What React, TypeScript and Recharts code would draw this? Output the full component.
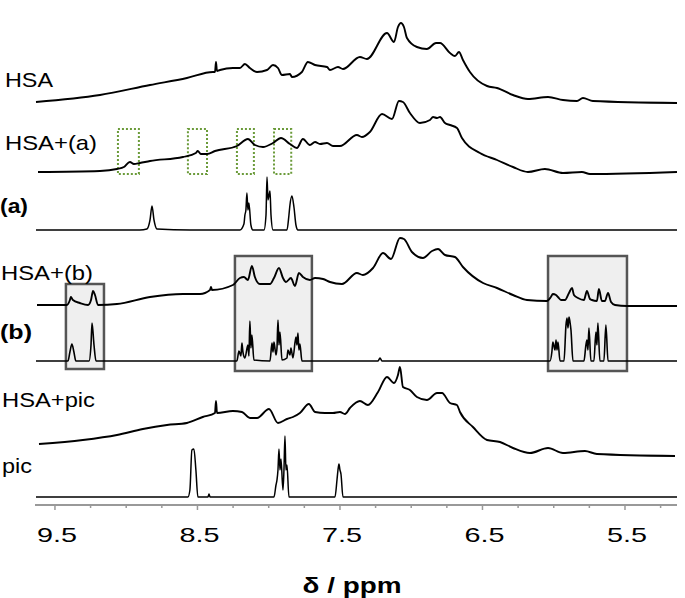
import React from 'react';
import { LineChart, Line, XAxis, YAxis, ReferenceArea } from 'recharts';

// chemical shift (ppm), intensity above each trace's own baseline
const hsa: [number, number][] = [
  [9.633, 1], [9.184, 8], [8.833, 18], [8.574, 25], [8.391, 31], [8.377, 31], [8.37, 41], [8.363, 32],
  [8.342, 33], [8.251, 35], [8.202, 35], [8.167, 39], [8.132, 35], [8.082, 31], [8.012, 33], [7.97, 38],
  [7.935, 35], [7.907, 28], [7.851, 29], [7.837, 26], [7.767, 31], [7.725, 41], [7.675, 38], [7.591, 36],
  [7.57, 33], [7.514, 36], [7.479, 34], [7.36, 46], [7.311, 44], [7.17, 70], [7.121, 61], [7.093, 76],
  [7.072, 80], [7.051, 76], [7.03, 65], [6.96, 56], [6.89, 54], [6.826, 60], [6.798, 60], [6.728, 50],
  [6.693, 47], [6.665, 51], [6.637, 43], [6.588, 31], [6.468, 17], [6.398, 15], [6.286, 8], [6.181, 4],
  [6.04, 6], [5.935, 3], [5.837, 2], [5.795, 5], [5.725, 2], [5.135, 0],
];

const hsaA: [number, number][] = [
  [9.619, 0], [9.184, 1], [9.065, 3], [9.016, 5], [8.974, 10], [8.946, 8], [8.904, 9], [8.833, 11],
  [8.602, 15], [8.511, 19], [8.498, 21], [8.476, 18], [8.433, 18], [8.377, 21], [8.223, 26], [8.146, 33],
  [8.097, 27], [8.04, 25], [7.97, 29], [7.914, 34], [7.851, 28], [7.802, 24], [7.76, 33], [7.711, 27],
  [7.675, 30], [7.64, 28], [7.591, 29], [7.549, 26], [7.5, 26], [7.381, 37], [7.346, 35], [7.29, 40],
  [7.205, 58], [7.135, 53], [7.086, 71], [7.058, 70], [7.009, 59], [6.939, 49], [6.868, 52], [6.847, 55],
  [6.819, 54], [6.798, 55], [6.763, 49], [6.728, 47], [6.679, 44], [6.644, 34], [6.518, 19], [6.398, 12],
  [6.286, 5], [6.181, 0], [6.062, 3], [5.935, -1], [5.802, 0], [5.746, -2], [5.135, 0],
];

const ligandA: [number, number][] = [
  [9.633, 0], [8.904, 0], [8.855, 1], [8.833, 10], [8.819, 24], [8.805, 10], [8.784, 1], [8.553, 0],
  [8.202, 0], [8.174, 6], [8.167, 15], [8.16, 20], [8.153, 37], [8.146, 20], [8.139, 27], [8.125, 5],
  [8.111, 0], [8.033, 0], [8.019, 15], [8.012, 53], [8.005, 30], [7.991, 39], [7.984, 15], [7.97, 0],
  [7.872, 0], [7.858, 15], [7.851, 25], [7.837, 34], [7.823, 23], [7.809, 5], [7.795, 0], [5.135, 0],
];

const hsaB: [number, number][] = [
  [9.626, 1], [9.416, 1], [9.395, 6], [9.388, 9], [9.374, 6], [9.325, 3], [9.268, 1], [9.247, 6],
  [9.233, 15], [9.219, 11], [9.198, 1], [9.065, 2], [8.833, 9], [8.602, 12], [8.482, 12], [8.412, 16],
  [8.405, 19], [8.398, 16], [8.251, 21], [8.202, 28], [8.174, 29], [8.146, 26], [8.118, 40], [8.097, 29],
  [8.062, 22], [7.991, 22], [7.963, 28], [7.928, 38], [7.9, 28], [7.879, 24], [7.844, 28], [7.816, 20],
  [7.788, 33], [7.76, 29], [7.711, 26], [7.675, 28], [7.619, 27], [7.57, 24], [7.486, 22], [7.381, 33],
  [7.339, 31], [7.268, 38], [7.198, 53], [7.142, 47], [7.079, 68], [7.051, 67], [6.995, 54], [6.918, 48],
  [6.854, 55], [6.812, 57], [6.763, 51], [6.693, 49], [6.637, 39], [6.496, 23], [6.398, 18], [6.286, 11],
  [6.188, 6], [6.048, 5], [6.02, 9], [6.006, 12], [5.984, 11], [5.97, 9], [5.949, 6], [5.921, 6],
  [5.893, 13], [5.872, 18], [5.858, 11], [5.83, 8], [5.788, 6], [5.767, 15], [5.746, 7], [5.732, 6],
  [5.697, 5], [5.683, 17], [5.662, 5], [5.641, 5], [5.619, 13], [5.598, 4], [5.57, 1], [5.486, 0],
  [5.135, 0],
];

const ligandB: [number, number][] = [
  [9.633, 0], [9.409, 0], [9.395, 9], [9.381, 17], [9.367, 9], [9.353, 0], [9.261, 0], [9.247, 16],
  [9.24, 38], [9.226, 16], [9.212, 0], [8.223, 0], [8.209, 10], [8.195, 5], [8.188, 18], [8.181, 9],
  [8.167, 3], [8.146, 16], [8.139, 5], [8.132, 40], [8.125, 13], [8.118, 26], [8.104, 1], [7.991, 0],
  [7.977, 18], [7.97, 9], [7.963, 19], [7.949, 6], [7.942, 13], [7.935, 41], [7.928, 16], [7.921, 29],
  [7.907, 1], [7.872, 3], [7.865, 11], [7.851, 6], [7.844, 13], [7.83, 3], [7.809, 24], [7.802, 16],
  [7.795, 28], [7.788, 11], [7.781, 17], [7.767, 0], [7.233, 0], [7.219, 3], [7.205, 0], [6.026, 0],
  [6.013, 9], [6.006, 19], [5.991, 11], [5.984, 21], [5.977, 11], [5.97, 19], [5.956, 0], [5.928, 0],
  [5.914, 36], [5.907, 43], [5.9, 33], [5.893, 44], [5.886, 39], [5.879, 31], [5.865, 0], [5.788, 0],
  [5.774, 16], [5.767, 21], [5.76, 11], [5.753, 33], [5.739, 0], [5.718, 0], [5.704, 29], [5.697, 16],
  [5.69, 38], [5.676, 0], [5.648, 0], [5.634, 36], [5.619, 0], [5.135, 0],
];

const hsaPic: [number, number][] = [
  [9.612, 12], [9.304, 16], [9.065, 21], [8.883, 27], [8.714, 31], [8.574, 33], [8.463, 39], [8.377, 43],
  [8.37, 55], [8.363, 43], [8.251, 45], [8.188, 44], [8.132, 38], [8.082, 38], [7.998, 47], [7.935, 33],
  [7.872, 37], [7.83, 39], [7.781, 43], [7.718, 52], [7.675, 44], [7.605, 43], [7.549, 43], [7.5, 44],
  [7.465, 42], [7.43, 48], [7.36, 55], [7.304, 51], [7.233, 64], [7.17, 79], [7.121, 73], [7.093, 81],
  [7.079, 89], [7.058, 69], [7.009, 66], [6.96, 59], [6.89, 56], [6.819, 63], [6.784, 63], [6.728, 53],
  [6.679, 51], [6.658, 44], [6.567, 29], [6.468, 16], [6.377, 14], [6.286, 8], [6.167, 3], [6.04, 8],
  [5.935, 3], [5.781, 5], [5.697, 2], [5.149, 0],
];

const pic: [number, number][] = [
  [9.633, 0], [8.567, 0], [8.553, 7], [8.539, 47], [8.525, 48], [8.511, 27], [8.497, 0], [8.426, 0],
  [8.419, 3], [8.412, 0], [7.963, 0], [7.949, 12], [7.942, 17], [7.935, 27], [7.928, 48], [7.921, 27],
  [7.914, 38], [7.9, 7], [7.893, 27], [7.886, 61], [7.879, 27], [7.872, 32], [7.858, 0], [7.535, 0],
  [7.521, 17], [7.514, 27], [7.507, 33], [7.5, 27], [7.493, 23], [7.479, 0], [5.135, 0],
];

const tickValues = [9.5, 9.25, 9, 8.75, 8.5, 8.25, 8, 7.75, 7.5, 7.25, 7, 6.75, 6.5, 6.25, 6, 5.75, 5.5, 5.25];
const majorTicks = [9.5, 8.5, 7.5, 6.5, 5.5];

const W = 685;
const H = 598;
const PLOT_H = 505;
const FONT = '"Liberation Sans", Arial, sans-serif';

// vertical stacking of the traces (baseline height above the axis)
const spectra = [
  { key: 'hsa', pts: hsa, base: 402, width: 1.9 },
  { key: 'hsaA', pts: hsaA, base: 333, width: 1.9 },
  { key: 'a', pts: ligandA, base: 275, width: 1.5 },
  { key: 'hsaB', pts: hsaB, base: 199, width: 1.9 },
  { key: 'b', pts: ligandB, base: 144, width: 1.6 },
  { key: 'hsaPic', pts: hsaPic, base: 49, width: 1.9 },
  { key: 'pic', pts: pic, base: 8, width: 1.5 },
];

const grayBoxes = [
  { x1: 9.423, x2: 9.156, y1: 136, y2: 221 },
  { x1: 8.237, x2: 7.697, y1: 134, y2: 249 },
  { x1: 6.04, x2: 5.486, y1: 134, y2: 249 },
];

const greenBoxes = [
  { x1: 9.058, x2: 8.911 },
  { x1: 8.567, x2: 8.433 },
  { x1: 8.223, x2: 8.104 },
  { x1: 7.963, x2: 7.842 },
];

const labels = [
  { text: 'HSA', x: 5, y: 87, w: 48, bold: false },
  { text: 'HSA+(a)', x: 5, y: 150, w: 92, bold: false },
  { text: '(a)', x: 0, y: 213, w: 28, bold: true },
  { text: 'HSA+(b)', x: 1, y: 280, w: 92, bold: false },
  { text: '(b)', x: 0, y: 339, w: 32, bold: true },
  { text: 'HSA+pic', x: 2, y: 407, w: 93, bold: false },
  { text: 'pic', x: 2, y: 473, w: 30, bold: false },
];

const PpmTick = (props: any) => {
  const { x, y, payload } = props;
  const major = majorTicks.includes(payload.value);
  return (
    <g>
      <line x1={x} x2={x} y1={y} y2={y + (major ? 5 : 3)} stroke="#999" strokeWidth={1.5} />
      {major && (
        <text
          x={x + 2}
          y={y + 37}
          textAnchor="middle"
          fontSize={21}
          fontFamily={FONT}
          fill="#000"
          textLength={40}
          lengthAdjust="spacingAndGlyphs"
        >
          {payload.value.toFixed(1)}
        </text>
      )}
    </g>
  );
};

export default function App() {
  return (
    <div style={{ position: 'absolute', left: 0, top: 0, width: W, height: H, background: '#fff' }}>
      <LineChart width={W} height={H} margin={{ top: 0, right: 8, bottom: 33, left: 35 }}>
        <XAxis
          type="number"
          dataKey="ppm"
          domain={[5.135, 9.64]}
          reversed
          allowDataOverflow
          ticks={tickValues}
          interval={0}
          height={60}
          tickLine={false}
          tickSize={0}
          tickMargin={0}
          axisLine={{ stroke: '#999', strokeWidth: 2 }}
          tick={<PpmTick />}
        />
        <YAxis type="number" hide domain={[0, PLOT_H]} allowDataOverflow />
        {grayBoxes.map((b, i) => (
          <ReferenceArea
            key={'g' + i}
            x1={b.x1}
            x2={b.x2}
            y1={b.y1}
            y2={b.y2}
            fill="#efefef"
            fillOpacity={1}
            stroke="#555"
            strokeWidth={2.5}
          />
        ))}
        {greenBoxes.map((b, i) => (
          <ReferenceArea
            key={'d' + i}
            x1={b.x1}
            x2={b.x2}
            y1={331}
            y2={376}
            fill="none"
            stroke="#6b9b3a"
            strokeWidth={2}
            strokeDasharray="2 2"
          />
        ))}
        {spectra.map((s) => (
          <Line
            key={s.key}
            data={s.pts.map(([ppm, v]) => ({ ppm, v: v + s.base }))}
            dataKey="v"
            type="monotone"
            stroke="#000"
            strokeWidth={s.width}
            strokeLinejoin="round"
            dot={false}
            activeDot={false}
            isAnimationActive={false}
          />
        ))}
      </LineChart>
      <svg width={W} height={H} style={{ position: 'absolute', left: 0, top: 0, pointerEvents: 'none' }}>
        {labels.map((l) => (
          <text
            key={l.text}
            x={l.x}
            y={l.y}
            fontSize={21}
            fontFamily={FONT}
            fontWeight={l.bold ? 'bold' : 'normal'}
            textLength={l.w}
            lengthAdjust="spacingAndGlyphs"
            fill="#000"
          >
            {l.text}
          </text>
        ))}
        <text
          x={352}
          y={593}
          textAnchor="middle"
          fontSize={22}
          fontWeight="bold"
          fontFamily={FONT}
          textLength={99}
          lengthAdjust="spacingAndGlyphs"
          fill="#000"
        >
          δ / ppm
        </text>
      </svg>
    </div>
  );
}
